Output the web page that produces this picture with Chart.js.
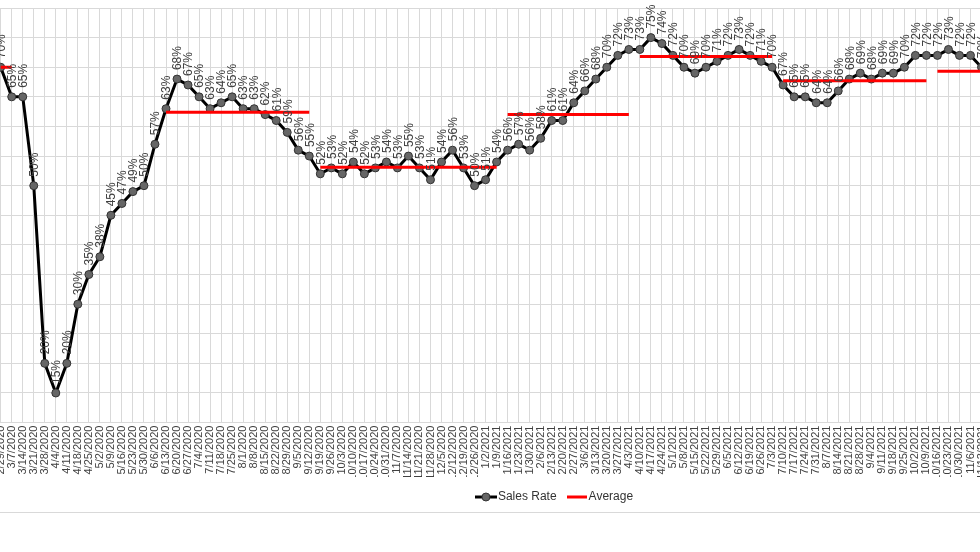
<!DOCTYPE html>
<html>
<head>
<meta charset="utf-8">
<script src="https://cdn.jsdelivr.net/npm/chart.js@4/dist/chart.umd.min.js"></script>
<style>
  html, body { margin: 0; padding: 0; background: #fff; overflow: hidden; width: 980px; height: 552px; }
  #wrap { position: absolute; left: -20px; top: 0; width: 1153px; height: 513px; }
  #bottomLine { position: absolute; left: 0; top: 512px; width: 980px; height: 1px; background: #d9d9d9; }
</style>
</head>
<body>
<div id="wrap"><canvas id="salesChart" width="1153" height="513"></canvas></div>
<div id="bottomLine"></div>
<script>
const weeks = [
  "2/29/2020", "3/7/2020", "3/14/2020", "3/21/2020", "3/28/2020", "4/4/2020", "4/11/2020", "4/18/2020",
  "4/25/2020", "5/2/2020", "5/9/2020", "5/16/2020", "5/23/2020", "5/30/2020", "6/6/2020", "6/13/2020",
  "6/20/2020", "6/27/2020", "7/4/2020", "7/11/2020", "7/18/2020", "7/25/2020", "8/1/2020", "8/8/2020",
  "8/15/2020", "8/22/2020", "8/29/2020", "9/5/2020", "9/12/2020", "9/19/2020", "9/26/2020", "10/3/2020",
  "10/10/2020", "10/17/2020", "10/24/2020", "10/31/2020", "11/7/2020", "11/14/2020", "11/21/2020", "11/28/2020",
  "12/5/2020", "12/12/2020", "12/19/2020", "12/26/2020",
  "1/2/2021", "1/9/2021", "1/16/2021", "1/23/2021", "1/30/2021", "2/6/2021", "2/13/2021", "2/20/2021",
  "2/27/2021", "3/6/2021", "3/13/2021", "3/20/2021", "3/27/2021", "4/3/2021", "4/10/2021", "4/17/2021",
  "4/24/2021", "5/1/2021", "5/8/2021", "5/15/2021", "5/22/2021", "5/29/2021", "6/5/2021", "6/12/2021",
  "6/19/2021", "6/26/2021", "7/3/2021", "7/10/2021", "7/17/2021", "7/24/2021", "7/31/2021", "8/7/2021",
  "8/14/2021", "8/21/2021", "8/28/2021", "9/4/2021", "9/11/2021", "9/18/2021", "9/25/2021", "10/2/2021",
  "10/9/2021", "10/16/2021", "10/23/2021", "10/30/2021", "11/6/2021", "11/13/2021"
];

const salesRate = [
  70, 65, 65, 50, 20, 15, 20, 30, 35, 38,
  45, 47, 49, 50, 57, 63, 68, 67, 65, 63,
  64, 65, 63, 63, 62, 61, 59, 56, 55, 52,
  53, 52, 54, 52, 53, 54, 53, 55, 53, 51,
  54, 56, 53, 50, 51, 54, 56, 57, 56, 58,
  61, 61, 64, 66, 68, 70, 72, 73, 73, 75,
  74, 72, 70, 69, 70, 71, 72, 73, 72, 71,
  70, 67, 65, 65, 64, 64, 66, 68, 69, 68,
  69, 69, 70, 72, 72, 72, 73, 72, 72, 70
];

// period averages, one flat run per period (null = no average shown)
const average = [
  70, 70,
  null, null, null, null, null, null, null, null, null, null, null, null, null,
  62.4, 62.4, 62.4, 62.4, 62.4, 62.4, 62.4, 62.4, 62.4, 62.4, 62.4, 62.4, 62.4, 62.4,
  53.1, 53.1, 53.1, 53.1, 53.1, 53.1, 53.1, 53.1, 53.1, 53.1, 53.1, 53.1, 53.1, 53.1, 53.1, 53.1, 53.1,
  62.0, 62.0, 62.0, 62.0, 62.0, 62.0, 62.0, 62.0, 62.0, 62.0, 62.0, 62.0,
  71.8, 71.8, 71.8, 71.8, 71.8, 71.8, 71.8, 71.8, 71.8, 71.8, 71.8, 71.8, 71.8,
  67.7, 67.7, 67.7, 67.7, 67.7, 67.7, 67.7, 67.7, 67.7, 67.7, 67.7, 67.7, 67.7, 67.7,
  69.3, 69.3, 69.3, 69.3, 69.3
];

const yTicks = { min: 10, max: 80, step: 5 };

Chart.defaults.font.family = '"Liberation Sans", Arial, sans-serif';

function makeLegendIcon(width, drawFn) {
  const c = document.createElement("canvas");
  c.width = width;
  c.height = 12;
  drawFn(c.getContext("2d"), width);
  return c;
}

const salesIcon = makeLegendIcon(22, (g, w) => {
  g.strokeStyle = "#000";
  g.lineWidth = 3;
  g.beginPath();
  g.moveTo(0, 6);
  g.lineTo(w, 6);
  g.stroke();
  g.fillStyle = "#666";
  g.strokeStyle = "#333";
  g.lineWidth = 1;
  g.beginPath();
  g.arc(w / 2, 6, 4, 0, Math.PI * 2);
  g.fill();
  g.stroke();
});

const averageIcon = makeLegendIcon(20, (g, w) => {
  g.strokeStyle = "#ff0000";
  g.lineWidth = 3;
  g.beginPath();
  g.moveTo(0, 6);
  g.lineTo(w, 6);
  g.stroke();
});

const pointLabels = {
  id: "pointLabels",
  afterDatasetsDraw(chart) {
    const ctx = chart.ctx;
    const meta = chart.getDatasetMeta(0);
    ctx.save();
    ctx.font = '12px "Liberation Sans", Arial, sans-serif';
    ctx.fillStyle = "#404040";
    ctx.textAlign = "left";
    ctx.textBaseline = "middle";
    meta.data.forEach((pt, i) => {
      ctx.save();
      ctx.translate(pt.x + 1, pt.y - 9);
      ctx.rotate(-Math.PI / 2);
      ctx.fillText(salesRate[i] + "%", 0, 0);
      ctx.restore();
    });
    ctx.restore();
  }
};

new Chart(document.getElementById("salesChart"), {
  type: "line",
  data: {
    labels: weeks,
    datasets: [
      {
        label: "Sales Rate",
        data: salesRate,
        borderColor: "#000",
        borderWidth: 3,
        pointRadius: 4,
        pointBackgroundColor: "#666",
        pointBorderColor: "#333",
        pointBorderWidth: 1,
        tension: 0,
        order: 1
      },
      {
        label: "Average",
        data: average,
        borderColor: "#ff0000",
        borderWidth: 3,
        pointRadius: 0,
        spanGaps: false,
        order: 0,
        segment: {
          borderColor: (c) => (c.p0.parsed.y === c.p1.parsed.y ? "#ff0000" : "transparent")
        }
      }
    ]
  },
  options: {
    responsive: false,
    animation: false,
    devicePixelRatio: 1,
    layout: { padding: { top: 8, left: 0, right: 0, bottom: 0 } },
    scales: {
      x: {
        offset: false,
        grid: { color: "#d9d9d9", drawTicks: false },
        border: { color: "#d9d9d9" },
        ticks: {
          autoSkip: false,
          minRotation: 90,
          maxRotation: 90,
          padding: 3,
          color: "#404040",
          font: { size: 11 }
        },
        afterFit: (s) => { s.height = 54.4; }
      },
      y: {
        min: yTicks.min,
        max: yTicks.max,
        grid: { color: "#d9d9d9", drawTicks: false },
        border: { display: false },
        ticks: { stepSize: yTicks.step, display: false },
        afterFit: (s) => { s.width = 20.7; }
      },
      yRight: {
        position: "right",
        grid: { display: false, drawTicks: false },
        border: { display: false },
        ticks: { display: false },
        afterFit: (s) => { s.width = 151.5; }
      }
    },
    plugins: {
      tooltip: { enabled: false },
      legend: {
        position: "bottom",
        labels: {
          usePointStyle: true,
          pointStyleWidth: 12,
          boxHeight: 12,
          padding: 14,
          color: "#333",
          font: { size: 12 },
          generateLabels: () => [
            { text: "Sales Rate", pointStyle: salesIcon, datasetIndex: 0, lineWidth: 0, fontColor: "#333" },
            { text: "Average", pointStyle: averageIcon, datasetIndex: 1, lineWidth: 0, fontColor: "#333" }
          ]
        }
      }
    }
  },
  plugins: [pointLabels]
});
</script>
</body>
</html>
